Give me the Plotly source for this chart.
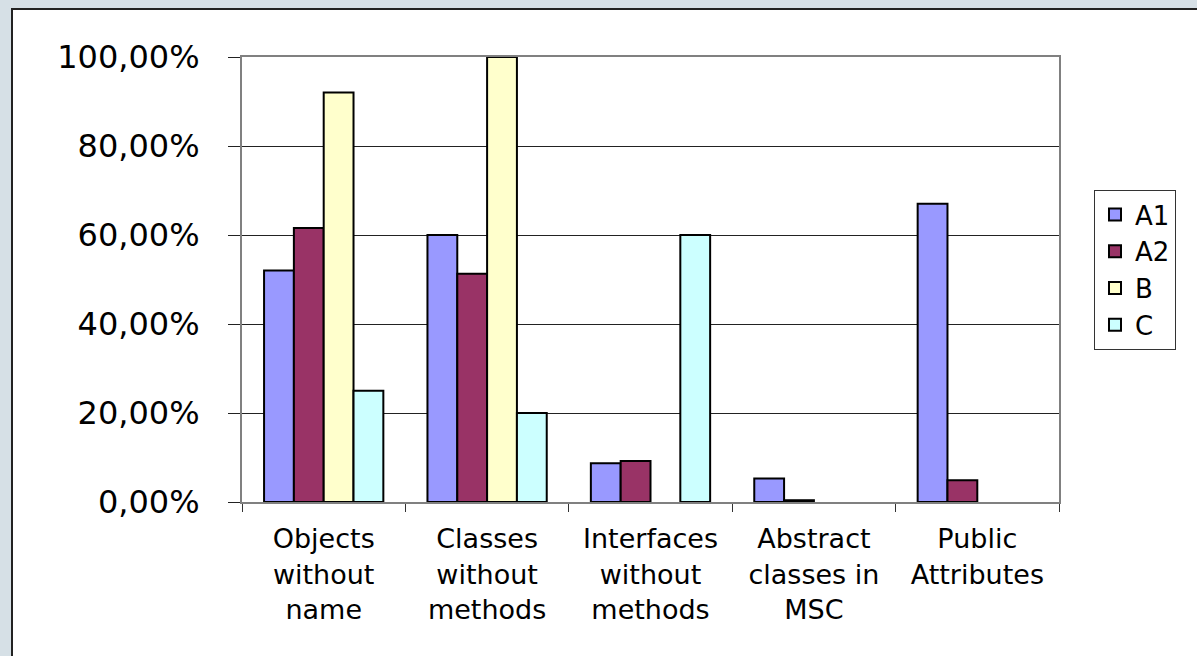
import plotly.graph_objects as go

# Categories and series values (percent)
categories = [
    "Objects<br>without<br>name",
    "Classes<br>without<br>methods",
    "Interfaces<br>without<br>methods",
    "Abstract<br>classes in<br>MSC",
    "Public<br>Attributes",
]
series_names = ["A1", "A2", "B", "C"]
a1_values = [52.0, 60.0, 8.7, 5.3, 67.0]
a2_values = [61.6, 51.3, 9.2, 0.4, 4.9]
b_values = [92.0, 100.0, None, None, None]
c_values = [25.0, 20.0, 60.0, None, None]
y_ticks = [0, 20, 40, 60, 80, 100]
y_tick_labels = [f"{v:.2f}".replace(".", ",") + "%" for v in y_ticks]

colors = ["#9999FF", "#993366", "#FFFFCC", "#CCFFFF"]
FONT = "DejaVu Sans"

W, H = 1197, 656
L, R, T, B = 242, 138, 57, 154
pw = W - L - R
ph = H - T - B

fig = go.Figure()
for name, vals, col in zip(series_names, [a1_values, a2_values, b_values, c_values], colors):
    fig.add_trace(go.Bar(
        name=name, x=categories, y=vals,
        marker=dict(color=col, line=dict(color="black", width=2)),
    ))

# white chart panel on the grey page
def px_x(p):
    return (p - L) / pw

def px_y(p):
    return (H - B - p) / ph

fig.add_shape(type="rect", xref="paper", yref="paper", layer="below",
              x0=px_x(12), x1=px_x(1260), y0=px_y(720), y1=px_y(9),
              fillcolor="white", line=dict(color="#222222", width=2))

fig.update_layout(
    width=W, height=H,
    margin=dict(l=L, r=R, t=T, b=B, pad=0),
    paper_bgcolor="#d6e0e6",
    plot_bgcolor="white",
    barmode="group",
    bargap=0.27,
    bargroupgap=0,
    font=dict(family=FONT, color="black", size=26),
    showlegend=True,
    legend=dict(
        x=px_x(1094), y=px_y(190), xanchor="left", yanchor="top",
        bgcolor="white", bordercolor="#333333", borderwidth=1,
        font=dict(family=FONT, size=26, color="black"),
        tracegroupgap=0,
    ),
)
fig.update_xaxes(
    type="category",
    showline=True, linecolor="#808080", linewidth=2, mirror=True,
    ticks="outside", tickson="boundaries", ticklen=8, tickwidth=1, tickcolor="#333333",
    tickfont=dict(family=FONT, size=27, color="black"),
    ticklabelstandoff=12,
    showgrid=False,
)
fig.update_yaxes(
    range=[0, 100],
    tickmode="array", tickvals=y_ticks, ticktext=y_tick_labels,
    showline=True, linecolor="#808080", linewidth=2, mirror=True,
    ticks="outside", ticklen=12, tickwidth=1, tickcolor="#222222",
    tickfont=dict(family=FONT, size=32, color="black"),
    ticklabelstandoff=22,
    showgrid=True, gridcolor="#222222", gridwidth=1,
    zeroline=False,
)

fig.write_html("out.html")
